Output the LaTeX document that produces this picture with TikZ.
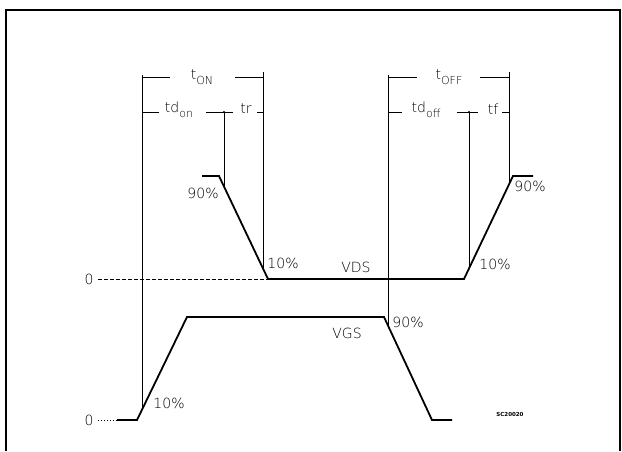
\documentclass[tikz,border=0pt]{standalone}
\usepackage{fontspec}
\setmainfont{DejaVu Sans ExtraLight}
\newfontfamily\tagfont{DejaVu Sans}
\newcommand\lowsub[1]{\raisebox{-0.6ex}{\fontsize{11}{12}\selectfont #1}}
\begin{document}
\begin{tikzpicture}[x=1pt,y=-1pt,
  wave/.style={line width=1.8pt},
  guide/.style={line width=0.8pt},
  frame/.style={line width=2.2pt},
  lbl/.style={inner sep=0pt,font=\fontsize{14}{16}\selectfont},
  tiny/.style={inner sep=0pt,font=\tagfont\fontsize{5.5}{6}\selectfont\bfseries},
  dot/.style={circle,fill,inner sep=0pt,minimum size=2.5pt}]
\useasboundingbox (0,0) rectangle (622,451);
% frame
\draw[frame] (6,451) -- (6,10) -- (620,10) -- (620,451);
% waveform points VDS
\coordinate (d0) at (202,176);
\coordinate (d1) at (219,176);
\coordinate (d2) at (268,279);
\coordinate (d3) at (464,279);
\coordinate (d4) at (513,176);
\coordinate (d5) at (533,176);
% VGS
\coordinate (g0) at (117,420);
\coordinate (g1) at (137,420);
\coordinate (g2) at (187,317);
\coordinate (g3) at (384,317);
\coordinate (g4) at (432,420);
\coordinate (g5) at (452,420);
\draw[wave] (d0) -- (d1) -- (d2) -- (d3) -- (d4) -- (d5);
\draw[wave] (g0) -- (g1) -- (g2) -- (g3) -- (g4) -- (g5);
% zero labels and reference lines
\node[lbl] (z1) at (89,279) {0};
\node[lbl] (z2) at (89,420) {0};
\draw[guide,dash pattern=on 4pt off 2pt] (z1.east) ++(4,0) coordinate (z1e) -- (d2);
\draw[guide,dash pattern=on 1.5pt off 1.5pt] (z2.east) ++(4,0) coordinate (z2e) -- (g0);
% timing bracket coordinates
\coordinate (a1) at (142,75);  \coordinate (a2) at (142,409.7);
\coordinate (b1) at (263,75);  \coordinate (b2) at (263,268.5);
\coordinate (c1) at (224,112); \coordinate (c2) at (224,186.5);
\coordinate (e1) at (388,75);  \coordinate (e2) at (388,325.6);
\coordinate (f1) at (509,75);  \coordinate (f2) at (509,184.4);
\coordinate (h1) at (469,112); \coordinate (h2) at (469,268.5);
\draw[guide] (a1) -- (a2);
\draw[guide] (b1) -- (b2);
\draw[guide] (c1) -- (c2);
\draw[guide] (e1) -- (e2);
\draw[guide] (f1) -- (f2);
\draw[guide] (h1) -- (h2);
\node[dot] (cj) at (c1) {};
\node[dot] (hj) at (h1) {};
% bracket labels
\node[lbl] (ton) at (202,77) {t\lowsub{ON}};
\node[lbl] (tdon) at (179,110) {td\lowsub{on}};
\node[lbl] (tr) at (246,109) {tr};
\node[lbl] (toff) at (449,77) {t\lowsub{OFF}};
\node[lbl] (tdoff) at (426,110) {td\lowsub{off}};
\node[lbl] (tf) at (493,109) {tf};
% bracket lines
\draw[guide] (142,77) -- (170,77);
\draw[guide] (235,77) -- (263,77);
\draw[guide] (388,77) -- (417,77);
\draw[guide] (480,77) -- (509,77);
\draw[guide] (142,112) -- (159,112);
\draw[guide] (206,112) -- (233,112);
\draw[guide] (257,112) -- (263,112);
\draw[guide] (388,112) -- (402,112);
\draw[guide] (457,112) -- (478,112);
\draw[guide] (502,112) -- (509,112);
% small end ticks
\draw[guide] (263,72) -- (263,80);
\draw[guide] (509,72) -- (509,80);
\draw[guide] (263,109) -- (263,115);
\draw[guide] (509,109) -- (509,115);
% level labels
\node[lbl] (p90a) at (203,193) {90\%};
\node[lbl] (p10a) at (283,263) {10\%};
\node[lbl] (vds) at (356,267) {VDS};
\node[lbl] (p90b) at (530,186) {90\%};
\node[lbl] (p10b) at (495,264) {10\%};
\node[lbl] (vgs) at (347,333) {VGS};
\node[lbl] (p90c) at (408,322) {90\%};
\node[lbl] (p10c) at (169,403) {10\%};
\node[tiny] (sc) at (510,414) {SC20020};
\end{tikzpicture}
\end{document}
